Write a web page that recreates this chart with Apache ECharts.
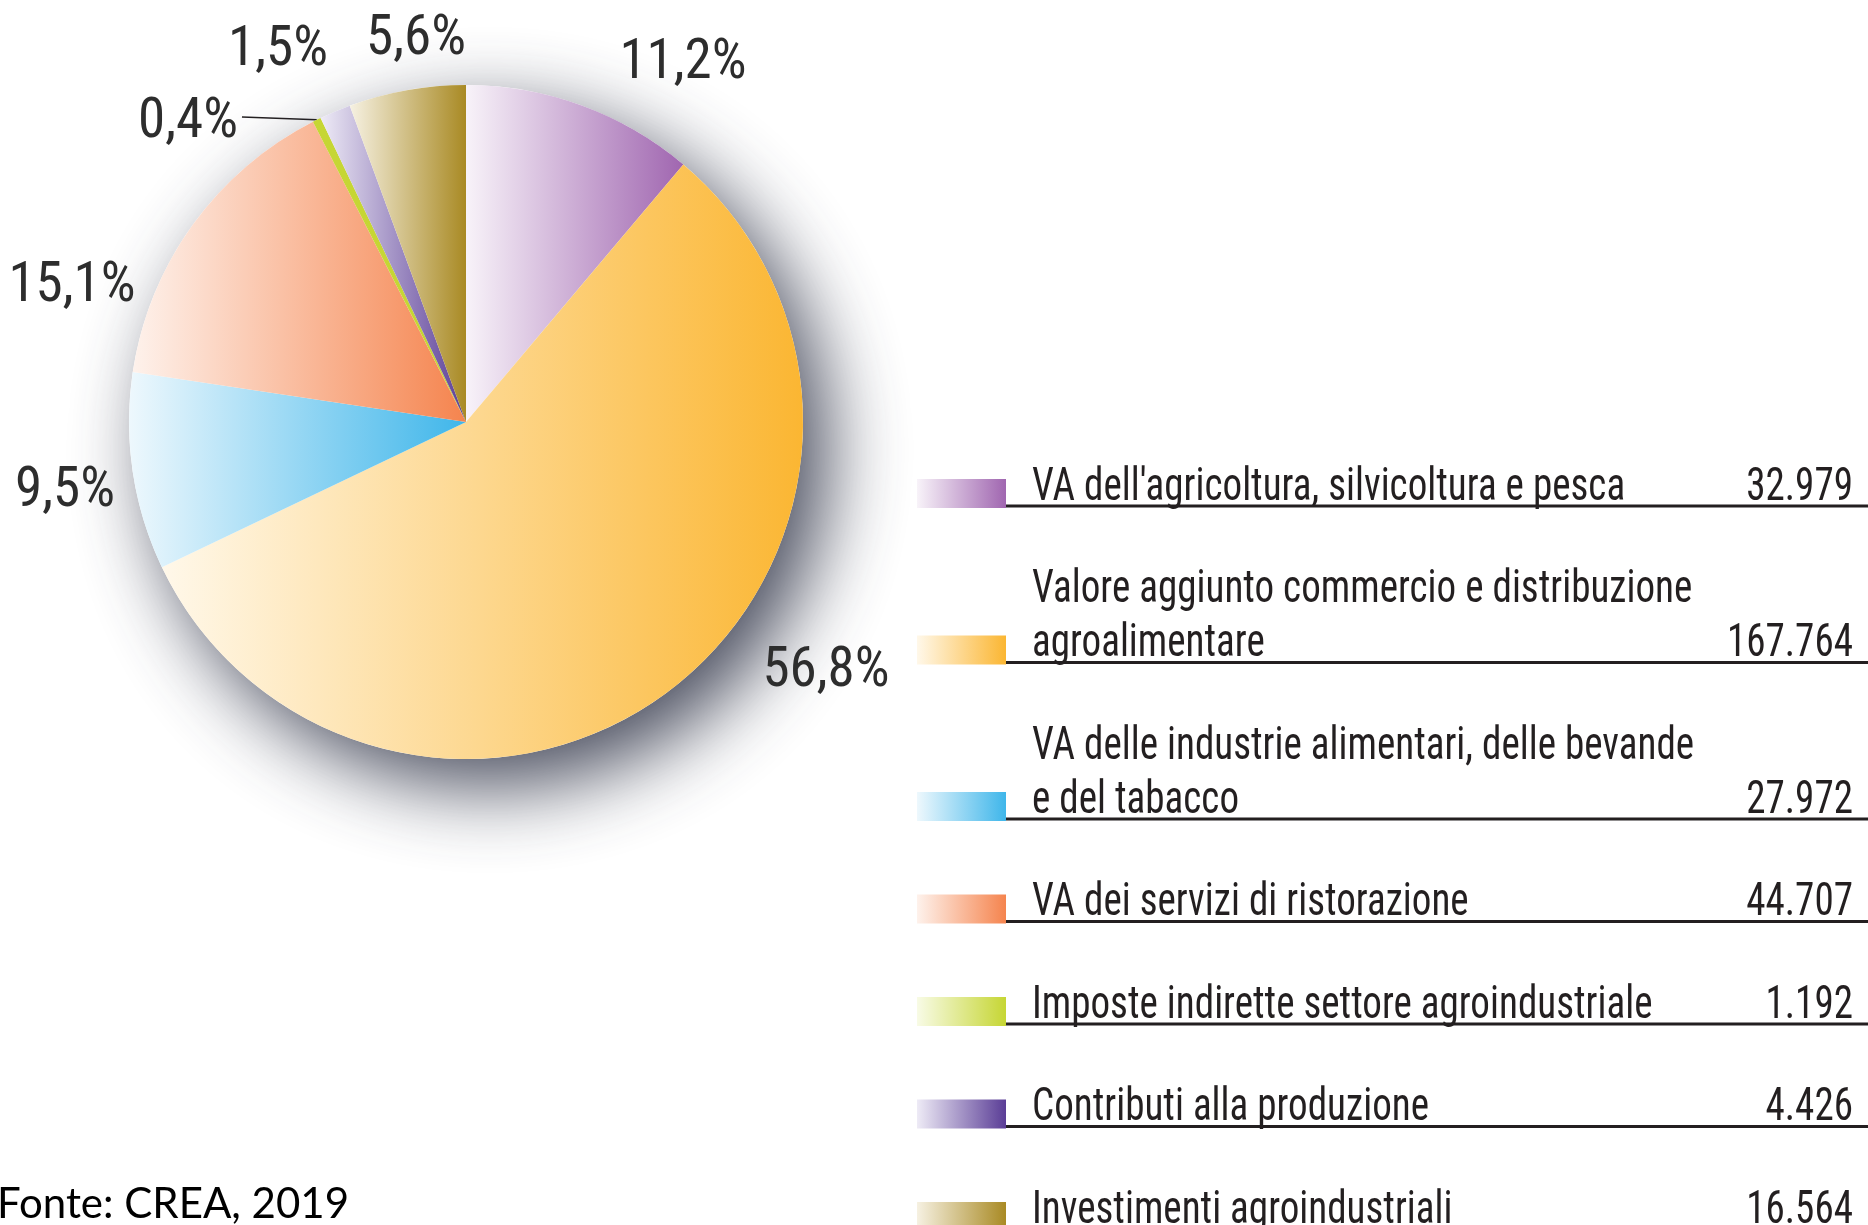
<!DOCTYPE html>
<html>
<head>
<meta charset="utf-8">
<title>Valore della filiera agroalimentare</title>
<script src="https://cdn.jsdelivr.net/npm/echarts@6/dist/echarts.min.js"></script>
<style>
html, body { margin: 0; padding: 0; background: #fff; }
#chart { width: 1868px; height: 1225px; }
</style>
</head>
<body>
<div id="chart"></div>
<script>
// voci della filiera, in senso orario dalle ore 12
var voci = [
    "VA dell'agricoltura, silvicoltura e pesca",
    "Valore aggiunto commercio e distribuzione\nagroalimentare",
    "VA delle industrie alimentari, delle bevande\ne del tabacco",
    "VA dei servizi di ristorazione",
    "Imposte indirette settore agroindustriale",
    "Contributi alla produzione",
    "Investimenti agroindustriali"
];
var valori = [32979, 167764, 27972, 44707, 1192, 4426, 16564];
var colori = ['#a066b0', '#fbb632', '#3fb6ea', '#f5844e', '#c6d634', '#5a3d96', '#a98a24'];
var chiari = ['#f8f3f9', '#fff8ea', '#eef8fd', '#fef2ec', '#f8fbe6', '#eeebf6', '#f6f1e2'];
var fonte = 'Fonte: CREA, 2019';

var CONDENSATO = "'Roboto Condensed', 'Liberation Sans Narrow', sans-serif";
var totale = valori.reduce(function (a, b) { return a + b; }, 0);

function pct(v) { return (v / totale * 100).toFixed(1).replace('.', ',') + '%'; }
function migliaia(v) { return String(v).replace(/\B(?=(\d{3})+(?!\d))/g, '.'); }
function sfumatura(i) {
    return new echarts.graphic.LinearGradient(0, 0, 1, 0, [
        { offset: 0, color: chiari[i] },
        { offset: 1, color: colori[i] }
    ]);
}

// centro delle etichette percentuali
var posEtichette = [[683, 64], [826, 672], [65, 492], [72, 287], [188, 123], [278, 51], [416, 40]];

var CENTRO = [466, 422], RAGGIO = 337;

// legenda a destra: riquadro sfumato, testo, valore, riga
var grafica = [];
var base = 506;
voci.forEach(function (nome, i) {
    var righe = nome.split('\n');
    if (i > 0) base += 102.5 + (righe.length - 1) * 54;
    grafica.push({
        type: 'rect', shape: { x: 917, y: base - 27, width: 89, height: 29 },
        style: { fill: sfumatura(i) }, silent: true
    });
    grafica.push({
        type: 'line', shape: { x1: 1006, y1: base, x2: 1868, y2: base },
        style: { stroke: '#231f20', lineWidth: 3 }, silent: true
    });
    righe.forEach(function (riga, k) {
        grafica.push({
            type: 'text', x: 1032, y: base - 18 - (righe.length - 1 - k) * 54, scaleX: 0.85, silent: true,
            style: { text: riga, fill: '#231f20', fontSize: 46, fontFamily: CONDENSATO, verticalAlign: 'middle' }
        });
    });
    grafica.push({
        type: 'text', x: 1853, y: base - 18, scaleX: 0.85, silent: true,
        style: { text: migliaia(valori[i]), fill: '#231f20', fontSize: 46, fontFamily: CONDENSATO, align: 'right', verticalAlign: 'middle' }
    });
});
grafica.push({
    type: 'text', x: -3, y: 1204, silent: true,
    style: { text: fonte, fill: '#000', fontSize: 42, fontFamily: "Lato, 'Open Sans', sans-serif", verticalAlign: 'middle' }
});

var chart = echarts.init(document.getElementById('chart'), null, { renderer: 'canvas' });
chart.setOption({
    backgroundColor: '#fff',
    animation: false,
    graphic: grafica,
    series: [
    {
        // disco d'ombra sotto la torta
        type: 'pie',
        center: CENTRO,
        radius: RAGGIO,
        silent: true,
        label: { show: false },
        labelLine: { show: false },
        itemStyle: {
            color: '#fff',
            shadowBlur: 80,
            shadowOffsetX: 24,
            shadowOffsetY: 28,
            shadowColor: 'rgba(40,45,65,0.85)'
        },
        data: [{ value: totale, name: 'ombra' }]
    },
    {
        type: 'pie',
        center: CENTRO,
        radius: RAGGIO,
        startAngle: 90,
        clockwise: true,
        avoidLabelOverlap: false,
        emphasis: { disabled: true },
        label: {
            show: true,
            position: 'outside',
            formatter: function (p) { return pct(p.value); },
            fontFamily: CONDENSATO,
            fontSize: 55,
            color: '#2d2d2d'
        },
        labelLine: { show: false },
        labelLayout: function (p) {
            var pos = posEtichette[p.dataIndex];
            var res = { x: pos[0], y: pos[1], align: 'center', verticalAlign: 'middle' };
            if (p.dataIndex === 4 && p.labelLinePoints) {
                res.labelLinePoints = [p.labelLinePoints[0], [pos[0] + p.labelRect.width / 2 + 4, pos[1] - 6]];
            }
            return res;
        },
        data: voci.map(function (nome, i) {
            // la fetta sottilissima delle imposte resta a tinta piena
            var d = { name: nome, value: valori[i], itemStyle: { color: i === 4 ? colori[i] : sfumatura(i) } };
            if (i === 4) d.labelLine = { show: true, length: 2, length2: 70, lineStyle: { color: '#231f20', width: 1.5 } };
            return d;
        })
    }]
});
</script>
</body>
</html>
